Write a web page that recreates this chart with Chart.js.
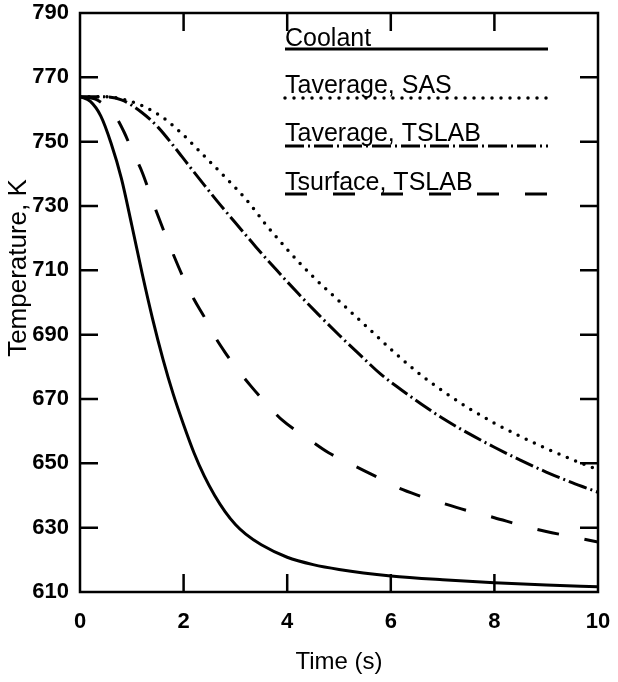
<!DOCTYPE html>
<html>
<head>
<meta charset="utf-8">
<title>Temperature transient</title>
<script src="https://cdn.jsdelivr.net/npm/chart.js@4.4.0/dist/chart.umd.min.js"></script>
<style>
    html, body { margin: 0; padding: 0; background: #fff; }
    canvas { display: block; }
</style>
</head>
<body>
<canvas id="tempChart" width="618" height="682"></canvas>
<script>
// time (s) / temperature (K) for each curve
const coolantTime = [0, 0.2, 0.4, 0.6, 0.8, 1.0, 1.2, 1.4, 1.6, 1.8, 2.0, 2.2, 2.4, 2.6, 2.8, 3.0, 3.2, 3.5, 4.0, 4.5, 5, 6, 7, 8, 9, 10];
const coolantTemp = [764, 762.5, 758, 749.5, 738.5, 724, 709, 695, 682.5, 671.5, 662, 653.3, 646, 640, 635, 631, 628, 624.7, 620.8, 618.5, 617, 615, 613.8, 612.9, 612.2, 611.6];

const sasTime = [0, 0.4, 0.8, 1.2, 1.6, 2.0, 2.4, 2.8, 3.2, 3.6, 4.0, 4.5, 5.0, 5.5, 6.0, 6.5, 7.0, 7.5, 8.0, 8.5, 9.0, 9.5, 10];
const sasTemp = [764, 764, 763.3, 761.2, 757.5, 752, 745.5, 739, 732.2, 724, 716.5, 708, 700.5, 693, 685.5, 678.5, 672.5, 667.2, 662.5, 658.4, 654.6, 651.2, 648];

const slabAvgTime = [0, 0.4, 0.8, 1.2, 1.5, 1.8, 2.1, 2.4, 2.7, 3.0, 3.4, 3.8, 4.2, 4.6, 5.0, 5.4, 5.8, 6.2, 6.6, 7.0, 7.5, 8.0, 8.5, 9.0, 9.5, 10];
const slabAvgTemp = [764, 764, 763, 759, 754.6, 748.8, 742.6, 736.5, 730.5, 724.8, 717.2, 710, 703, 696.3, 689.9, 683.8, 677.8, 672.9, 668.3, 664, 659.3, 655, 651, 647.3, 644, 641];

const slabSurfTime = [0, 0.3, 0.5, 0.7, 0.85, 1.0, 1.2, 1.4, 1.6, 1.8, 2.0, 2.2, 2.4, 2.6, 2.8, 3.0, 3.3, 3.6, 3.9, 4.4, 4.8, 5.3, 5.7, 6.1, 6.5, 7, 7.5, 8, 8.5, 9, 9.5, 10];
const slabSurfTemp = [764, 763.2, 761, 757.5, 753, 747.5, 740.5, 731.5, 723, 715, 707.5, 701, 695.5, 689.5, 684.5, 680, 674, 668.5, 663.5, 657.7, 653.3, 649.2, 646, 642.7, 640.2, 637.6, 635.2, 633.1, 630.8, 628.8, 627.2, 625.5];

const seriesNames = ['Coolant', 'Taverage, SAS', 'Taverage, TSLAB', 'Tsurface, TSLAB'];

const xMin = 0, xMax = 10, xStep = 2;
const yMin = 610, yMax = 790, yStep = 20;

const toPoints = (xs, ys) => xs.map((x, i) => ({ x: x, y: ys[i] }));

const fontFamily = '"Liberation Sans", Arial, sans-serif';
Chart.defaults.font.family = fontFamily;
Chart.defaults.color = '#000';

// box around the plot with inward tick marks, plus the rotated y title
const frameTicks = {
    id: 'frameTicks',
    afterDraw(chart) {
        const { ctx, chartArea: a, scales } = chart;
        const len = 18;
        ctx.save();
        ctx.strokeStyle = '#000';
        ctx.lineWidth = 2.5;
        ctx.strokeRect(a.left, a.top, a.right - a.left, a.bottom - a.top);
        ctx.beginPath();
        scales.x.ticks.forEach(t => {
            if (t.value <= xMin || t.value >= xMax) return;
            const px = scales.x.getPixelForValue(t.value);
            ctx.moveTo(px, a.bottom); ctx.lineTo(px, a.bottom - len);
            ctx.moveTo(px, a.top); ctx.lineTo(px, a.top + len);
        });
        scales.y.ticks.forEach(t => {
            if (t.value <= yMin || t.value >= yMax) return;
            const py = scales.y.getPixelForValue(t.value);
            ctx.moveTo(a.left, py); ctx.lineTo(a.left + len, py);
            ctx.moveTo(a.right, py); ctx.lineTo(a.right - len, py);
        });
        ctx.stroke();

        ctx.translate(19, 268);
        ctx.rotate(-Math.PI / 2);
        ctx.fillStyle = '#000';
        ctx.font = '26px ' + fontFamily;
        ctx.textAlign = 'center';
        ctx.textBaseline = 'middle';
        ctx.fillText('Temperature, K', 0, 0);
        ctx.restore();
    }
};

// key in the upper right: name with its line style running underneath
const lineKey = {
    id: 'lineKey',
    afterDatasetsDraw(chart) {
        const { ctx } = chart;
        const x0 = 285, x1 = 548;
        const baselines = [46, 93, 141, 190];
        const lineYs = [49, 98, 146, 194];
        ctx.save();
        chart.data.datasets.forEach((ds, i) => {
            ctx.fillStyle = '#000';
            ctx.font = '25px ' + fontFamily;
            ctx.textAlign = 'left';
            ctx.textBaseline = 'alphabetic';
            ctx.fillText(ds.label, x0, baselines[i]);

            ctx.beginPath();
            ctx.strokeStyle = ds.borderColor;
            ctx.lineWidth = ds.borderWidth;
            ctx.lineCap = ds.borderCapStyle || 'butt';
            ctx.setLineDash(ds.borderDash || []);
            ctx.moveTo(x0, lineYs[i]);
            ctx.lineTo(x1, lineYs[i]);
            ctx.stroke();
        });
        ctx.restore();
    }
};

const tickFont = { size: 22, weight: 'bold', family: fontFamily };

new Chart(document.getElementById('tempChart').getContext('2d'), {
    type: 'line',
    data: {
        datasets: [{
            label: seriesNames[0],
            data: toPoints(coolantTime, coolantTemp),
            borderColor: '#000',
            borderWidth: 3
        }, {
            label: seriesNames[1],
            data: toPoints(sasTime, sasTemp),
            borderColor: '#000',
            borderWidth: 3.5,
            borderDash: [0, 9],
            borderCapStyle: 'round'
        }, {
            label: seriesNames[2],
            data: toPoints(slabAvgTime, slabAvgTemp),
            borderColor: '#000',
            borderWidth: 3,
            borderDash: [19, 4, 2, 4]
        }, {
            label: seriesNames[3],
            data: toPoints(slabSurfTime, slabSurfTemp),
            borderColor: '#000',
            borderWidth: 3,
            borderDash: [22, 26]
        }]
    },
    options: {
        responsive: false,
        animation: false,
        layout: {
            autoPadding: false,
            padding: { top: 13, right: 20, left: 0, bottom: 0 }
        },
        elements: {
            point: { radius: 0 },
            line: { cubicInterpolationMode: 'monotone', fill: false }
        },
        plugins: {
            legend: { display: false },
            tooltip: { enabled: false }
        },
        scales: {
            x: {
                type: 'linear',
                min: xMin,
                max: xMax,
                grid: { display: false, drawTicks: false },
                border: { display: false },
                ticks: { stepSize: xStep, font: tickFont, padding: 17, color: '#000' },
                title: {
                    display: true,
                    text: 'Time (s)',
                    color: '#000',
                    font: { size: 24, family: fontFamily },
                    padding: { top: 0, bottom: 5 }
                },
                afterFit: (scale) => {
                    scale.height = 90;
                    scale.paddingLeft = 0;
                    scale.paddingRight = 0;
                }
            },
            y: {
                min: yMin,
                max: yMax,
                grid: { display: false, drawTicks: false },
                border: { display: false },
                ticks: { stepSize: yStep, font: tickFont, padding: 11, color: '#000' },
                afterFit: (scale) => {
                    scale.width = 80;
                    scale.paddingTop = 0;
                    scale.paddingBottom = 0;
                }
            }
        }
    },
    plugins: [frameTicks, lineKey]
});
</script>
</body>
</html>
